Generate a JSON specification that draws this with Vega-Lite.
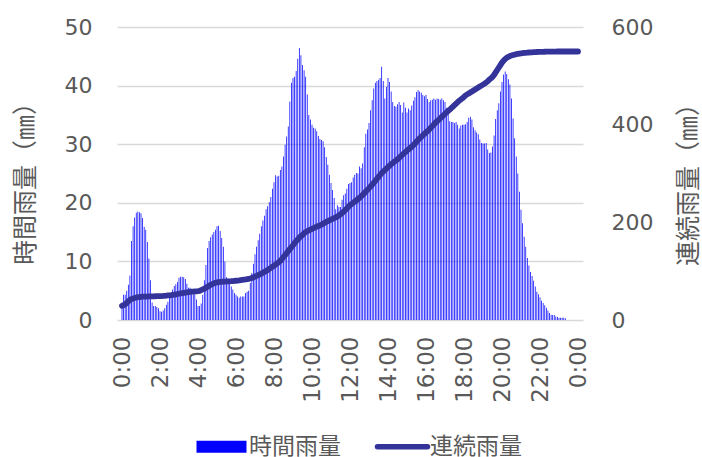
{
"$schema": "https://vega.github.io/schema/vega-lite/v6.json",
"width": 466, "height": 293,
"autosize": "none",
"padding": {"left": 117, "top": 27, "right": 119, "bottom": 137},
"background": "white",
"config": {"view": {"stroke": null}, "font": "DejaVu Sans", "axisX": {"labelOverlap": false, "labelFlush": false}},
"data": {"values": [
{"t":0,"r":3.0,"c":29},{"t":5,"r":4.3,"c":30},{"t":10,"r":4.3,"c":32},{"t":15,"r":5.0,"c":35},{"t":20,"r":6.0,"c":38},{"t":25,"r":7.6,"c":41},
{"t":30,"r":13.5,"c":43},{"t":35,"r":16.0,"c":44},{"t":40,"r":17.5,"c":45},{"t":45,"r":18.3,"c":46},{"t":50,"r":18.5,"c":47},{"t":55,"r":18.4,"c":47},
{"t":60,"r":18.2,"c":47.5},{"t":65,"r":17.4,"c":47.8},{"t":70,"r":15.9,"c":48},{"t":75,"r":15.4,"c":48},{"t":80,"r":13.3,"c":48},{"t":85,"r":10.5,"c":48.2},
{"t":90,"r":6.8,"c":48.3},{"t":95,"r":3.0,"c":48.4},{"t":100,"r":2.4,"c":48.5},{"t":105,"r":2.4,"c":48.6},{"t":110,"r":2.2,"c":48.7},{"t":115,"r":2.0,"c":48.8},
{"t":120,"r":1.5,"c":48.9},{"t":125,"r":1.4,"c":49},{"t":130,"r":1.6,"c":49.2},{"t":135,"r":2.0,"c":49.5},{"t":140,"r":2.6,"c":49.8},{"t":145,"r":3.1,"c":50.2},
{"t":150,"r":3.9,"c":50.6},{"t":155,"r":4.3,"c":51},{"t":160,"r":5.2,"c":51.5},{"t":165,"r":5.8,"c":52},{"t":170,"r":6.1,"c":52.6},{"t":175,"r":6.5,"c":53.2},
{"t":180,"r":7.2,"c":53.8},{"t":185,"r":7.4,"c":54.4},{"t":190,"r":7.4,"c":55},{"t":195,"r":7.3,"c":55.6},{"t":200,"r":7.0,"c":56.2},{"t":205,"r":6.2,"c":56.8},
{"t":210,"r":5.5,"c":57.3},{"t":215,"r":5.5,"c":57.7},{"t":220,"r":5.1,"c":58},{"t":225,"r":4.7,"c":58.3},{"t":230,"r":4.4,"c":58.6},{"t":235,"r":3.5,"c":58.8},
{"t":240,"r":2.4,"c":59},{"t":245,"r":2.4,"c":59.5},{"t":250,"r":2.8,"c":61},{"t":255,"r":4.3,"c":62.5},{"t":260,"r":6.8,"c":64},{"t":265,"r":9.4,"c":66},
{"t":270,"r":12.3,"c":68},{"t":275,"r":13.5,"c":70},{"t":280,"r":14.1,"c":72},{"t":285,"r":14.6,"c":73.5},{"t":290,"r":15.0,"c":75},{"t":295,"r":15.4,"c":76.2},
{"t":300,"r":16.0,"c":77},{"t":305,"r":16.1,"c":77.6},{"t":310,"r":15.2,"c":78},{"t":315,"r":14.0,"c":78.3},{"t":320,"r":12.5,"c":78.5},{"t":325,"r":10.0,"c":78.7},
{"t":330,"r":7.3,"c":78.9},{"t":335,"r":7.1,"c":79.1},{"t":340,"r":6.6,"c":79.3},{"t":345,"r":5.7,"c":79.5},{"t":350,"r":5.2,"c":79.8},{"t":355,"r":4.6,"c":80.1},
{"t":360,"r":4.3,"c":80.4},{"t":365,"r":4.0,"c":80.7},{"t":370,"r":3.8,"c":81},{"t":375,"r":4.0,"c":81.5},{"t":380,"r":4.0,"c":82},{"t":385,"r":4.0,"c":82.5},
{"t":390,"r":4.6,"c":83},{"t":395,"r":4.8,"c":83.6},{"t":400,"r":5.0,"c":84.3},{"t":405,"r":6.3,"c":85},{"t":410,"r":8.0,"c":86.2},{"t":415,"r":9.6,"c":87.4},
{"t":420,"r":11.2,"c":88.8},{"t":425,"r":12.5,"c":90.2},{"t":430,"r":13.6,"c":91.7},{"t":435,"r":14.7,"c":93.3},{"t":440,"r":16.0,"c":95},{"t":445,"r":17.0,"c":96.8},
{"t":450,"r":17.8,"c":98.6},{"t":455,"r":18.9,"c":100.5},{"t":460,"r":19.4,"c":102.5},{"t":465,"r":20.1,"c":104.6},{"t":470,"r":21.0,"c":106.8},{"t":475,"r":22.4,"c":109},
{"t":480,"r":23.5,"c":111.2},{"t":485,"r":24.7,"c":113.5},{"t":490,"r":24.5,"c":115.8},{"t":495,"r":24.6,"c":118.2},{"t":500,"r":25.6,"c":121},{"t":505,"r":26.2,"c":125},
{"t":510,"r":27.9,"c":129},{"t":515,"r":29.9,"c":133},{"t":520,"r":31.3,"c":137},{"t":525,"r":33.0,"c":141},{"t":530,"r":37.3,"c":145},{"t":535,"r":40.5,"c":149},
{"t":540,"r":41.3,"c":153},{"t":545,"r":41.5,"c":157.5},{"t":550,"r":42.5,"c":161.5},{"t":555,"r":44.6,"c":165},{"t":560,"r":46.4,"c":168.5},{"t":565,"r":45.2,"c":171.5},
{"t":570,"r":43.5,"c":174.5},{"t":575,"r":42.6,"c":177.5},{"t":580,"r":41.5,"c":180},{"t":585,"r":38.5,"c":182},{"t":590,"r":35.0,"c":183.5},{"t":595,"r":34.2,"c":185},
{"t":600,"r":33.3,"c":186.5},{"t":605,"r":32.8,"c":188},{"t":610,"r":32.7,"c":189.5},{"t":615,"r":32.2,"c":191},{"t":620,"r":31.4,"c":192.5},{"t":625,"r":30.9,"c":194},
{"t":630,"r":30.7,"c":195.5},{"t":635,"r":30.5,"c":197},{"t":640,"r":29.5,"c":199},{"t":645,"r":27.8,"c":201},{"t":650,"r":26.5,"c":202.5},{"t":655,"r":24.8,"c":204},
{"t":660,"r":23.4,"c":205.5},{"t":665,"r":22.2,"c":207},{"t":670,"r":20.8,"c":208.5},{"t":675,"r":18.9,"c":210},{"t":680,"r":19.6,"c":212},{"t":685,"r":19.3,"c":214},
{"t":690,"r":19.3,"c":216.5},{"t":695,"r":20.5,"c":219},{"t":700,"r":21.3,"c":222},{"t":705,"r":21.6,"c":225},{"t":710,"r":22.4,"c":228.5},{"t":715,"r":23.2,"c":232},
{"t":720,"r":23.4,"c":235},{"t":725,"r":23.5,"c":237.5},{"t":730,"r":24.3,"c":240},{"t":735,"r":24.8,"c":242.5},{"t":740,"r":25.1,"c":245},{"t":745,"r":25.0,"c":247.5},
{"t":750,"r":26.2,"c":250},{"t":755,"r":25.9,"c":253},{"t":760,"r":26.7,"c":256},{"t":765,"r":29.5,"c":259.5},{"t":770,"r":31.8,"c":263},{"t":775,"r":32.5,"c":266.5},
{"t":780,"r":33.6,"c":270},{"t":785,"r":35.8,"c":273.5},{"t":790,"r":37.5,"c":277},{"t":795,"r":39.5,"c":281},{"t":800,"r":40.5,"c":285},{"t":805,"r":40.8,"c":289},
{"t":810,"r":41.0,"c":293},{"t":815,"r":41.3,"c":297},{"t":820,"r":43.2,"c":301},{"t":825,"r":40.8,"c":304},{"t":830,"r":37.8,"c":307},{"t":835,"r":39.8,"c":310},
{"t":840,"r":41.3,"c":313},{"t":845,"r":40.6,"c":316},{"t":850,"r":39.0,"c":319},{"t":855,"r":37.2,"c":321.5},{"t":860,"r":36.5,"c":324},{"t":865,"r":36.4,"c":326.5},
{"t":870,"r":36.8,"c":329},{"t":875,"r":37.2,"c":332},{"t":880,"r":36.7,"c":335},{"t":885,"r":35.4,"c":338},{"t":890,"r":37.1,"c":341},{"t":895,"r":36.2,"c":344},
{"t":900,"r":35.4,"c":347},{"t":905,"r":36.1,"c":349.5},{"t":910,"r":35.8,"c":352},{"t":915,"r":36.6,"c":355},{"t":920,"r":37.4,"c":358},{"t":925,"r":38.0,"c":361.5},
{"t":930,"r":38.9,"c":365},{"t":935,"r":39.2,"c":368.5},{"t":940,"r":39.0,"c":372},{"t":945,"r":38.8,"c":375},{"t":950,"r":38.4,"c":378},{"t":955,"r":38.2,"c":381},
{"t":960,"r":38.4,"c":384},{"t":965,"r":37.7,"c":387},{"t":970,"r":37.2,"c":390},{"t":975,"r":37.5,"c":393.5},{"t":980,"r":37.6,"c":397},{"t":985,"r":37.8,"c":400.5},
{"t":990,"r":37.6,"c":404},{"t":995,"r":37.8,"c":407},{"t":1000,"r":37.7,"c":410},{"t":1005,"r":37.6,"c":413},{"t":1010,"r":37.8,"c":416},{"t":1015,"r":37.5,"c":419},
{"t":1020,"r":37.2,"c":422},{"t":1025,"r":36.2,"c":425},{"t":1030,"r":35.2,"c":428},{"t":1035,"r":33.9,"c":431},{"t":1040,"r":33.8,"c":434},{"t":1045,"r":33.8,"c":437},
{"t":1050,"r":33.6,"c":440},{"t":1055,"r":33.8,"c":443},{"t":1060,"r":33.3,"c":446},{"t":1065,"r":32.7,"c":449},{"t":1070,"r":33.2,"c":451.5},{"t":1075,"r":33.3,"c":454},
{"t":1080,"r":33.3,"c":457},{"t":1085,"r":33.4,"c":460},{"t":1090,"r":33.8,"c":462},{"t":1095,"r":34.5,"c":464},{"t":1100,"r":34.7,"c":466},{"t":1105,"r":34.2,"c":468},
{"t":1110,"r":32.9,"c":470},{"t":1115,"r":32.4,"c":472},{"t":1120,"r":32.0,"c":474},{"t":1125,"r":31.7,"c":476},{"t":1130,"r":30.8,"c":478},{"t":1135,"r":30.2,"c":480},
{"t":1140,"r":30.1,"c":482},{"t":1145,"r":30.1,"c":484},{"t":1150,"r":30.2,"c":486.5},{"t":1155,"r":29.1,"c":489},{"t":1160,"r":28.5,"c":492},{"t":1165,"r":28.6,"c":495},
{"t":1170,"r":29.6,"c":498},{"t":1175,"r":31.5,"c":502},{"t":1180,"r":34.3,"c":507},{"t":1185,"r":35.8,"c":512},{"t":1190,"r":37.0,"c":517},{"t":1195,"r":39.0,"c":522},
{"t":1200,"r":40.6,"c":527},{"t":1205,"r":41.9,"c":531},{"t":1210,"r":42.4,"c":534.5},{"t":1215,"r":42.0,"c":537},{"t":1220,"r":41.1,"c":539},{"t":1225,"r":40.2,"c":540.5},
{"t":1230,"r":37.8,"c":541.7},{"t":1235,"r":34.4,"c":542.7},{"t":1240,"r":31.0,"c":543.5},{"t":1245,"r":27.9,"c":544.3},{"t":1250,"r":25.0,"c":545},{"t":1255,"r":21.9,"c":545.6},
{"t":1260,"r":18.8,"c":546.1},{"t":1265,"r":16.5,"c":546.5},{"t":1270,"r":14.2,"c":546.9},{"t":1275,"r":12.5,"c":547.2},{"t":1280,"r":10.6,"c":547.5},{"t":1285,"r":9.3,"c":547.8},
{"t":1290,"r":8.2,"c":548},{"t":1295,"r":7.5,"c":548.2},{"t":1300,"r":6.7,"c":548.4},{"t":1305,"r":5.7,"c":548.6},{"t":1310,"r":4.8,"c":548.8},{"t":1315,"r":4.4,"c":548.9},
{"t":1320,"r":3.9,"c":549},{"t":1325,"r":3.3,"c":549.1},{"t":1330,"r":2.9,"c":549.2},{"t":1335,"r":2.5,"c":549.3},{"t":1340,"r":2.1,"c":549.4},{"t":1345,"r":1.6,"c":549.5},
{"t":1350,"r":1.2,"c":549.6},{"t":1355,"r":0.9,"c":549.6},{"t":1360,"r":0.85,"c":549.7},{"t":1365,"r":0.85,"c":549.7},{"t":1370,"r":0.6,"c":549.7},{"t":1375,"r":0.5,"c":549.8},
{"t":1380,"r":0.4,"c":549.8},{"t":1385,"r":0.4,"c":549.8},{"t":1390,"r":0.4,"c":549.8},{"t":1395,"r":0.4,"c":549.8},{"t":1400,"r":0.3,"c":549.8},{"t":1405,"r":0,"c":549.8},
{"t":1410,"r":0,"c":549.8},{"t":1415,"r":0,"c":549.8},{"t":1420,"r":0,"c":549.8},{"t":1425,"r":0,"c":549.8},{"t":1430,"r":0,"c":549.8},{"t":1435,"r":0,"c":549.8},
{"t":1440,"r":0,"c":549.8}
]},
"layer": [
{
"mark": {"type": "bar", "width": 0.75},
"encoding": {
"x": {"field": "t", "type": "quantitative",
"scale": {"domain": [0, 1440], "nice": false, "zero": false},
"axis": {"values": [0,120,240,360,480,600,720,840,960,1080,1200,1320,1440],
"labelExpr": "floor(datum.value/60)%24 + ':00'",
"labelAngle": -90, "labelFontSize": 23, "labelColor": "#595959", "labelPadding": 16,
"labelFlush": false, "labelOverlap": false, "labelFont": "DejaVu Sans",
"ticks": false, "domain": false, "grid": false, "title": null}},
"y": {"field": "r", "type": "quantitative",
"scale": {"domain": [0, 50], "nice": false},
"axis": {"values": [0,10,20,30,40,50], "grid": true, "gridColor": "#d9d9d9", "gridWidth": 1.5,
"domain": false, "ticks": false, "labelFontSize": 22, "labelColor": "#595959", "labelPadding": 25,
"labelFont": "DejaVu Sans",
"title": "時間雨量（㎜）", "titleFont": "Noto Sans CJK JP", "titleFontSize": 25, "titleColor": "#595959",
"titleFontWeight": "normal", "titleAngle": 270, "titleX": -92, "titleY": 150,
"titleAlign": "center", "titleBaseline": "middle"}},
"color": {"datum": "時間雨量", "type": "nominal",
"scale": {"domain": ["時間雨量", "連続雨量"], "range": ["#0000ff", "#333399"]},
"legend": {"orient": "none", "legendX": 93, "legendY": 408, "direction": "horizontal", "title": null,
"symbolSize": 2500, "labelFont": "Noto Sans CJK JP", "labelFontSize": 23, "labelColor": "#595959",
"labelOffset": 16, "columnPadding": 25, "labelLimit": 400,
"encode": {"symbols": {"update": {
"shape": {"signal": "datum.value === '時間雨量' ? 'M-1,-0.24H1V0.24H-1Z' : 'M-1,0H1'"},
"fill": {"signal": "datum.value === '時間雨量' ? '#0000ff' : 'transparent'"},
"stroke": {"signal": "datum.value === '時間雨量' ? 'transparent' : '#333399'"},
"strokeWidth": {"signal": "datum.value === '時間雨量' ? 0 : 5.5"},
"strokeCap": {"value": "round"},
"opacity": {"value": 1}}}}}}
}
},
{
"mark": {"type": "line", "strokeWidth": 5.8, "strokeCap": "round", "strokeJoin": "round"},
"encoding": {
"x": {"field": "t", "type": "quantitative",
"axis": {"values": [0,120,240,360,480,600,720,840,960,1080,1200,1320,1440],
"labelExpr": "floor(datum.value/60)%24 + ':00'",
"labelAngle": -90, "labelFontSize": 23, "labelColor": "#595959", "labelPadding": 16,
"labelFlush": false, "labelOverlap": false, "labelFont": "DejaVu Sans",
"ticks": false, "domain": false, "grid": false, "title": null}},
"y": {"field": "c", "type": "quantitative",
"scale": {"domain": [0, 600], "nice": false},
"axis": {"orient": "right", "values": [0,200,400,600], "grid": false, "domain": false, "ticks": false,
"labelFontSize": 22, "labelColor": "#595959", "labelPadding": 28, "labelFont": "DejaVu Sans",
"title": "連続雨量（㎜）", "titleFont": "Noto Sans CJK JP", "titleFontSize": 25, "titleColor": "#595959",
"titleFontWeight": "normal", "titleAngle": 270, "titleX": 105, "titleY": 151,
"titleAlign": "center", "titleBaseline": "middle"}},
"color": {"datum": "連続雨量", "type": "nominal"}
}
}
],
"resolve": {"scale": {"y": "independent"}}
}
